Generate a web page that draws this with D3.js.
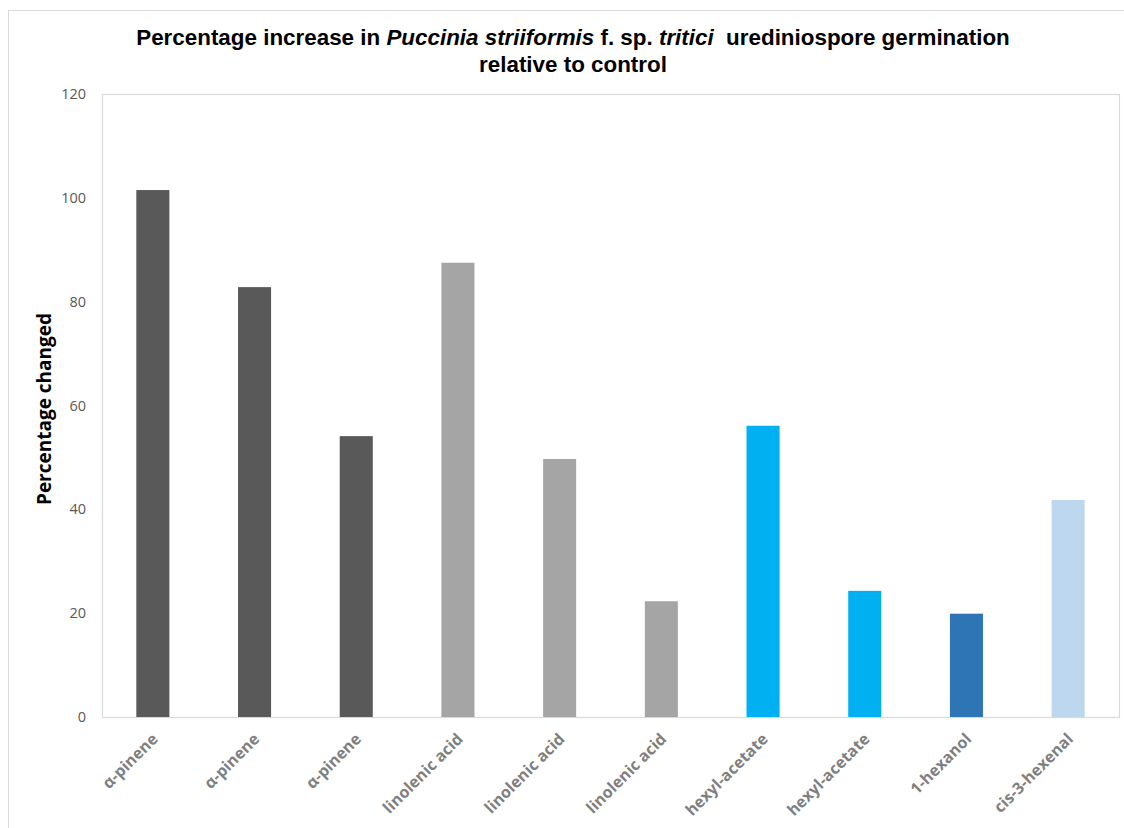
<!DOCTYPE html>
<html>
<head>
<meta charset="utf-8">
<script src="https://cdn.jsdelivr.net/npm/d3@7"></script>
<style>
  html, body { margin: 0; padding: 0; background: #fff; }
  svg { display: block; }
</style>
</head>
<body>
<svg id="chart" width="1124" height="828"></svg>
<script>
// Compounds tested (one bar each)
const categories = [
  "α-pinene", "α-pinene", "α-pinene",
  "linolenic acid", "linolenic acid", "linolenic acid",
  "hexyl-acetate", "hexyl-acetate",
  "1-hexanol", "cis-3-hexenal"
];
// Percentage increase in germination relative to control
const values = [101.5, 82.8, 54.1, 87.5, 49.7, 22.3, 56.1, 24.3, 19.9, 41.8];
// Fill colour per compound group
const barColors = [
  "#595959", "#595959", "#595959",
  "#a5a5a5", "#a5a5a5", "#a5a5a5",
  "#00b0f0", "#00b0f0",
  "#2e75b6", "#bdd7ee"
];
const yTicks = [0, 20, 40, 60, 80, 100, 120];

const svg = d3.select("#chart");
const plot = { left: 102, right: 1119, top: 94, bottom: 717 };

// Outer chart frame
svg.append("rect")
  .attr("x", 8.5).attr("y", 10.5)
  .attr("width", 1130).attr("height", 830)
  .attr("fill", "none").attr("stroke", "#d9d9d9").attr("stroke-width", 1);

const x = d3.scaleBand()
  .domain(d3.range(categories.length))
  .range([plot.left, plot.right])
  .paddingInner(0.675)
  .paddingOuter(0.3375);

const y = d3.scaleLinear().domain([0, 120]).range([plot.bottom, plot.top]);

// Plot area border
svg.append("rect")
  .attr("x", plot.left + 0.5).attr("y", plot.top + 0.5)
  .attr("width", plot.right - plot.left).attr("height", plot.bottom - plot.top)
  .attr("fill", "none").attr("stroke", "#d9d9d9").attr("stroke-width", 1.2);

// Bars
svg.append("g").selectAll("rect")
  .data(values)
  .join("rect")
  .attr("x", (d, i) => x(i))
  .attr("width", x.bandwidth())
  .attr("y", d => y(d))
  .attr("height", d => y(0) - y(d))
  .attr("fill", (d, i) => barColors[i]);

// Y axis labels
const yAxis = d3.axisLeft(y).tickValues(yTicks).tickSize(0).tickPadding(16);
svg.append("g")
  .attr("transform", `translate(${plot.left},0)`)
  .call(yAxis)
  .call(g => g.select(".domain").remove())
  .call(g => g.selectAll("text")
    .attr("fill", "#595959")
    .attr("font-family", "'Open Sans', sans-serif")
    .attr("font-size", 14.5));

// X axis labels, rotated
const xAxis = d3.axisBottom(x).tickFormat(i => categories[i]).tickSize(0);
svg.append("g")
  .attr("transform", `translate(0,${plot.bottom})`)
  .call(xAxis)
  .call(g => g.select(".domain").remove())
  .call(g => g.selectAll("text")
    .attr("fill", "#7f7f7f")
    .attr("font-family", "'Open Sans', sans-serif")
    .attr("font-weight", "bold")
    .attr("font-size", 16)
    .attr("text-anchor", "end")
    .attr("dy", null)
    .attr("y", 0)
    .attr("transform", "translate(6,23) rotate(-45)"));

// Y axis title
svg.append("text")
  .attr("transform", "translate(51,409) rotate(-90)")
  .attr("text-anchor", "middle")
  .attr("font-family", "'Open Sans', sans-serif")
  .attr("font-weight", "bold")
  .attr("font-size", 19)
  .attr("fill", "#000")
  .text("Percentage changed");

// Chart title with italic species names
const title = svg.append("text")
  .attr("text-anchor", "middle")
  .attr("font-family", "'Liberation Sans', Arial, sans-serif")
  .attr("font-weight", "bold")
  .attr("font-size", 22.4)
  .attr("fill", "#000");
const line1 = title.append("tspan").attr("x", 573).attr("y", 45);
line1.append("tspan").text("Percentage increase in ");
line1.append("tspan").attr("font-style", "italic").text("Puccinia striiformis");
line1.append("tspan").text(" f. sp. ");
line1.append("tspan").attr("font-style", "italic").text("tritici");
line1.append("tspan").style("white-space", "pre").text("  urediniospore germination");
title.append("tspan").attr("x", 573).attr("y", 72).text("relative to control");
</script>
</body>
</html>
